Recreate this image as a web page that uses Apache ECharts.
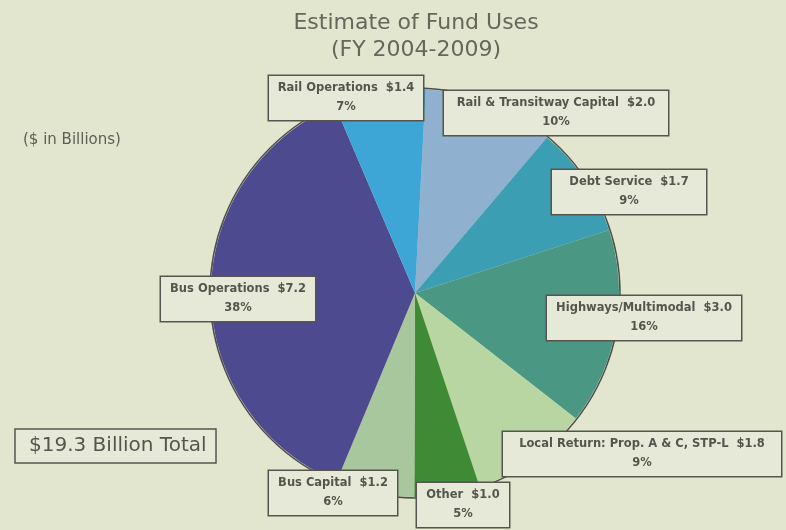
<!DOCTYPE html>
<html>
<head>
<meta charset="utf-8">
<script src="https://cdn.jsdelivr.net/npm/echarts@6/dist/echarts.min.js"></script>
<style>
  html, body { margin: 0; padding: 0; background: #e3e6ce; }
  #chart { width: 786px; height: 530px; }
</style>
</head>
<body>
<div id="chart"></div>
<script>
// Fund uses, FY 2004-2009, $ billions — listed clockwise from the top of the pie
const categories = [
  'Rail & Transitway Capital',
  'Debt Service',
  'Highways/Multimodal',
  'Local Return: Prop. A & C, STP-L',
  'Other',
  'Bus Capital',
  'Bus Operations',
  'Rail Operations'
];
const amounts = [2.0, 1.7, 3.0, 1.8, 1.0, 1.2, 7.2, 1.4];
const shareLabels = ['10%', '9%', '16%', '9%', '5%', '6%', '38%', '7%'];

// slice colours
const colors = ['#8fb1cf', '#3b9eb2', '#4a9884', '#b8d6a2', '#3f8a35', '#a9c79d', '#4e4a8f', '#3ea6d7'];
// label box centre [x, y] and inner text width, per slice
const labelBoxes = [
  [556, 113, 210],
  [629, 192, 140],
  [644, 318, 180],
  [642, 454, 264],
  [463, 505, 78],
  [333, 493, 114],
  [238, 299, 140],
  [346, 98, 140]
];

const total = amounts.reduce((a, b) => a + b, 0);
const textColor = '#55554e';
const fontFamily = '"DejaVu Sans", Verdana, sans-serif';

const chart = echarts.init(document.getElementById('chart'), null, { renderer: 'canvas' });

const pieData = categories.map((name, i) => ({
  name,
  value: amounts[i],
  share: shareLabels[i],
  itemStyle: { color: colors[i] },
  label: { width: labelBoxes[i][2] }
}));

chart.setOption({
  backgroundColor: '#e3e6ce',
  animation: false,
  title: [
    {
      text: 'Estimate of Fund Uses\n(FY 2004-2009)',
      left: 411,
      top: 5,
      textAlign: 'center',
      textStyle: { fontFamily, fontSize: 22, fontWeight: 'normal', color: '#66665c', lineHeight: 27 }
    },
    {
      text: '($ in Billions)',
      left: 18,
      top: 128,
      textStyle: { fontFamily, fontSize: 15, fontWeight: 'normal', color: '#5e5e56' }
    },
    {
      text: '$' + total.toFixed(1) + ' Billion Total',
      left: 15,
      top: 429,
      padding: [6, 10, 6, 14],
      borderColor: '#55554d',
      borderWidth: 1.5,
      backgroundColor: '#e7e9d8',
      textStyle: { fontFamily, fontSize: 20, fontWeight: 'normal', color: '#55554d', lineHeight: 22 }
    }
  ],
  series: [
    {
      // dark rim around the pie
      type: 'pie',
      silent: true,
      center: [415, 293],
      radius: 205,
      data: [{ value: 1 }],
      itemStyle: { color: 'rgba(0,0,0,0)', borderColor: '#4f4f4a', borderWidth: 1.5 },
      label: { show: false },
      labelLine: { show: false }
    },
    {
      type: 'pie',
      center: [415, 293],
      radius: 204,
      startAngle: 87,
      clockwise: true,
      avoidLabelOverlap: false,
      data: pieData,
      itemStyle: { borderWidth: 0 },
      labelLine: { show: false },
      label: {
        show: true,
        position: 'outside',
        formatter: (p) => p.name + '  $' + p.value.toFixed(1) + '\n' + p.data.share,
        fontFamily,
        fontSize: 11.5,
        fontWeight: 'bold',
        color: textColor,
        lineHeight: 19,
        align: 'center',
        backgroundColor: '#e7e9d8',
        borderColor: '#55554d',
        borderWidth: 1.5,
        padding: [3, 7, 3, 7]
      },
      labelLayout: (p) => ({
        x: labelBoxes[p.dataIndex][0],
        y: labelBoxes[p.dataIndex][1],
        align: 'center',
        verticalAlign: 'middle'
      })
    }
  ]
});
</script>
</body>
</html>
